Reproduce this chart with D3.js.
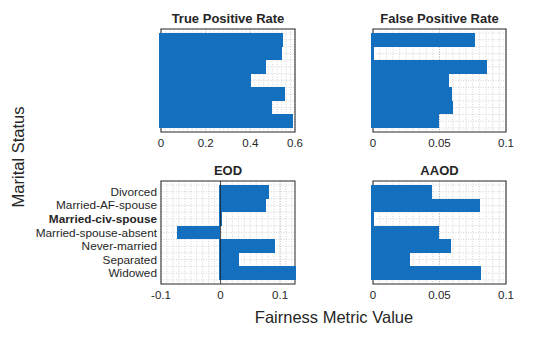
<!DOCTYPE html>
<html><head><meta charset="utf-8">
<script src="https://cdn.jsdelivr.net/npm/d3@7"></script>
<style>body{margin:0;background:#fff}svg{display:block}text{font-family:"Liberation Sans",Arial,sans-serif;fill:#262626}</style>
</head><body>
<script>
const categories = ["Divorced","Married-AF-spouse","Married-civ-spouse","Married-spouse-absent","Never-married","Separated","Widowed"];
const highlighted = "Married-civ-spouse";
const tprValues  = [0.548, 0.542, 0.470, 0.404, 0.557, 0.497, 0.592];
const fprValues  = [0.0769, 0.001, 0.0859, 0.0569, 0.0595, 0.0598, 0.0499];
const eodValues  = [0.0808, 0.0757, 0.0012, -0.0693, 0.0913, 0.0297, 0.126];
const aaodValues = [0.0446, 0.0805, 0.0008, 0.0494, 0.0589, 0.0278, 0.0814];
const panelTitles = ["True Positive Rate","False Positive Rate","EOD","AAOD"];
const xDomains = [[0,0.6],[0,0.1],[-0.1,0.125],[0,0.1]];
const xTicks = [[0,0.2,0.4,0.6],[0,0.05,0.1],[-0.1,0,0.1],[0,0.05,0.1]];
const minorStep = [0.02,0.005,0.01,0.005];
const yLabel = "Marital Status", xLabel = "Fairness Metric Value";

const W=560,H=337;
const svg=d3.select("body").append("svg").attr("width",W).attr("height",H);
const panels=[
 {x0:161,x1:295,y0:29,y1:132,vals:tprValues},
 {x0:373,x1:506,y0:29,y1:132,vals:fprValues},
 {x0:161,x1:295,y0:181,y1:284,vals:eodValues,labels:true},
 {x0:373,x1:506,y0:181,y1:284,vals:aaodValues}
];
const fmt=v=>{const s=d3.format("~g")(+v.toFixed(4));return s.replace("−","-");};
panels.forEach((p,i)=>{
  const g=svg.append("g");
  const x=d3.scaleLinear().domain(xDomains[i]).range([p.x0,p.x1]);
  const y=d3.scaleLinear().domain([0.2,7.8]).range([p.y0,p.y1]);
  const d=xDomains[i];
  const minors=d3.range(Math.ceil(d[0]/minorStep[i]-1e-9),Math.floor(d[1]/minorStep[i]+1e-9)+1).map(k=>k*minorStep[i]);
  g.selectAll(".vg").data(minors).join("line")
   .attr("x1",v=>x(v)).attr("x2",v=>x(v)).attr("y1",p.y0).attr("y2",p.y1)
   .attr("stroke","#cccccc").attr("stroke-width",0.8).attr("stroke-dasharray","1,1.5");
  g.selectAll(".vm").data(xTicks[i]).join("line")
   .attr("x1",v=>x(v)).attr("x2",v=>x(v)).attr("y1",p.y0).attr("y2",p.y1)
   .attr("stroke","#aaa").attr("stroke-width",0.8).attr("stroke-dasharray","1,1.5");
  const hs=d3.range(0.5,8,0.5).filter(v=>v>0.2&&v<7.8);
  g.selectAll(".hg").data(hs).join("line")
   .attr("x1",p.x0).attr("x2",p.x1).attr("y1",v=>y(v)).attr("y2",v=>y(v))
   .attr("stroke","#cccccc").attr("stroke-width",0.8).attr("stroke-dasharray","1,1.5");
  g.append("rect").attr("x",p.x0).attr("y",p.y0).attr("width",p.x1-p.x0).attr("height",p.y1-p.y0)
   .attr("fill","none").attr("stroke","#262626").attr("stroke-width",1);
  g.selectAll(".bar").data(p.vals).join("rect")
   .attr("shape-rendering","crispEdges")
   .attr("x",v=>Math.round(Math.min(x(0),x(v)))-2).attr("width",v=>Math.round(Math.abs(x(v)-x(0)))+2)
   .attr("y",(v,k)=>Math.round(y(k+0.5))).attr("height",(v,k)=>Math.round(y(k+1.5))-Math.round(y(k+0.5)))
   .attr("fill","#1470bf");
  if(d[0]<0){
    g.append("line").attr("x1",x(0)).attr("x2",x(0)).attr("y1",p.y0).attr("y2",p.y1)
     .attr("stroke","#262626").attr("stroke-width",0.8);
  }
  g.selectAll(".tl").data(xTicks[i]).join("text")
   .attr("x",v=>x(v)).attr("y",p.y1+15).attr("text-anchor","middle").attr("font-size",11.5)
   .text(v=>fmt(v));
  g.append("text").attr("x",(p.x0+p.x1)/2).attr("y",p.y0-6).attr("text-anchor","middle")
   .attr("font-size",13).attr("font-weight","bold").text(panelTitles[i]);
  if(p.labels){
    g.selectAll(".yl").data(categories).join("text")
     .attr("x",p.x0-4).attr("y",(c,k)=>y(k+1)+4).attr("text-anchor","end").attr("font-size",11.8)
     .attr("font-weight",c=>c===highlighted?"bold":"normal").text(c=>c);
  }
});
svg.append("text").attr("transform","translate(24,157) rotate(-90)").attr("text-anchor","middle")
 .attr("font-size",16.5).text(yLabel);
svg.append("text").attr("x",334).attr("y",323).attr("text-anchor","middle").attr("font-size",16.5).text(xLabel);
</script>
</body></html>
